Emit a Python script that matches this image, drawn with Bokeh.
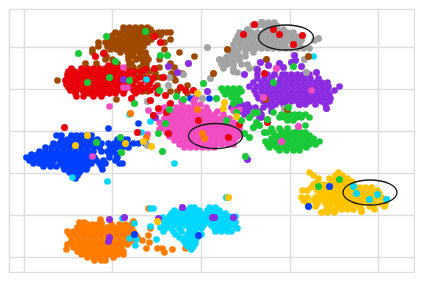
from bokeh.plotting import figure
from bokeh.models import Range1d, FixedTicker
from bokeh.embed import file_html
from bokeh.resources import INLINE

# Values (unlabelled axes, arbitrary units). Each cluster: y -> list of x.
x_ticks = [15, 103, 191.5, 281, 369]
y_ticks = [15, 57, 99, 141, 183, 225]

colors = dict(blue="#023eff", orange="#ff7c00", green="#1ac938", red="#e8000b", purple="#8b2be2",
              brown="#9f4800", pink="#f14cc1", grey="#a3a3a3", yellow="#ffc400", cyan="#00d7ff")

grey = {250: [253, 259, 265], 247: [243, 249, 255, 261, 267], 243: [238, 256, 262, 268, 274],
        240: [230, 236, 242, 248, 254, 260, 266, 272, 278, 284],
        236: [228, 234, 240, 246, 252, 258, 264, 270, 276, 282, 288],
        232: [226, 232, 238, 244, 250, 256, 262, 268, 274, 280, 286, 292, 305],
        228: [224, 230, 236, 242, 248, 254, 260, 266, 272, 276, 284, 290],
        224: [224, 230, 236, 240, 246, 252, 258, 264, 270, 276, 282, 288, 294, 300],
        220: [222, 228, 236, 244], 216: [218, 224, 230, 236], 212: [212, 218, 224, 230],
        208: [212, 218, 224, 232, 238], 204: [214, 224, 240, 246], 200: [228]}
purple = {198: [248, 258, 273, 276, 282, 288, 294, 300],
          194: [248, 255, 262, 271, 277, 283, 289, 295, 301, 309],
          190: [244, 252, 258, 264, 270, 276, 282, 288, 294, 300, 306, 312, 318],
          186: [240, 247, 253, 259, 265, 271, 277, 283, 289, 295, 301, 307, 313, 319, 330],
          182: [245, 252, 258, 264, 270, 276, 282, 288, 294, 300, 306, 312, 318, 325],
          178: [247, 254, 260, 266, 272, 278, 284, 290, 296, 302, 308, 314, 320],
          174: [249, 255, 261, 267, 273, 279, 285, 291, 297, 303, 309, 315, 321],
          171: [254, 262, 270, 276, 282, 288, 294, 300, 306, 312, 320],
          168: [226, 232, 238, 258, 266, 274, 290, 296, 306, 316],
          165: [222, 228, 234, 240, 246, 254, 262], 161: [226, 232, 238, 246, 250, 262],
          158: [235, 243, 252], 155: [250, 252]}
green = {184: [212, 218, 224, 230], 181: [214, 220, 226, 232], 178: [216, 222, 228], 175: [222, 226],
         160: [264], 158: [272, 276, 280, 285, 290, 296], 155: [270, 275, 282, 287, 292, 300], 152: [278, 284],
         147: [296], 144: [262, 270, 278], 141: [272, 288], 140: [258, 264, 278, 284, 292, 296],
         137: [265, 270, 276, 282, 288, 294, 300], 134: [262, 268, 274, 280, 286, 292, 298, 304],
         131: [256, 262, 268, 274, 280, 286, 292, 298, 304, 310], 128: [258, 264, 270, 276, 282, 288, 294, 300, 306],
         125: [260, 267, 273, 279, 285, 291, 297], 122: [270, 277, 284, 290]}
brown = {245: [114, 120, 126, 132, 138], 243: [117, 123, 129, 135, 141],
         240: [106, 112, 119, 125, 131, 137, 143, 149, 153, 157, 161],
         237: [103, 110, 116, 122, 128, 134, 140, 146, 151],
         233: [100, 106, 112, 118, 124, 130, 136, 142, 161],
         230: [89, 96, 102, 108, 114, 120, 126, 132, 138, 155],
         226: [89, 98, 104, 110, 116, 122, 128, 134],
         223: [83, 101, 107, 113, 119, 125, 131, 155],
         220: [83, 95, 111, 118, 124, 130, 136, 170], 216: [97, 119, 124, 131, 137, 185],
         213: [96, 103, 119, 127, 133, 139, 150], 209: [76, 87, 104, 108, 120, 122, 134, 137, 161],
         205: [106, 118, 124, 131, 137, 150, 165], 201: [106, 112, 125, 130, 140],
         199: [113, 134, 146, 162, 173], 195: [108, 117, 129, 135, 146, 151, 164],
         192: [48, 166], 187: [96, 148, 178], 181: [129, 133, 138, 161, 168], 179: [79, 178], 173: [107]}
red = {207: [99, 104], 204: [62, 72, 78, 84, 90, 96, 102, 108, 112],
       201: [59, 65, 71, 77, 83, 89, 95, 101, 107, 113, 120, 125, 132],
       198: [58, 64, 70, 76, 82, 88, 94, 100, 106, 112, 118, 124],
       195: [58, 63, 69, 75, 81, 87, 93, 99, 105, 111, 117, 130, 138, 144],
       192: [56, 62, 68, 74, 80, 86, 92, 98, 104, 110, 116, 122, 126, 136, 142],
       188: [57, 63, 69, 75, 81, 87, 93, 99, 105, 111, 117, 123, 131, 140],
       185: [59, 65, 71, 77, 83, 89, 95, 101, 107, 113, 119, 128, 136, 146],
       182: [61, 67, 73, 79, 85, 91, 97, 103, 109, 115, 124, 132, 141],
       179: [66, 75, 82, 88, 94, 100, 106, 114, 126, 148], 176: [67, 74, 84, 92]}
blue = {137: [47, 52, 62, 67, 72, 77, 82], 133: [52, 58, 64, 70, 76, 82, 88, 108, 114, 118],
        129: [44, 50, 56, 62, 68, 74, 80, 86, 92, 99, 105, 110, 118, 124, 129, 136],
        125: [36, 42, 48, 54, 60, 66, 72, 78, 84, 90, 101, 107, 113, 119],
        121: [30, 36, 42, 48, 54, 60, 66, 72, 78, 84, 92, 98, 104],
        118: [22, 28, 34, 40, 46, 52, 58, 64, 70, 76, 82, 100, 107],
        115: [17, 23, 29, 35, 41, 47, 53, 59, 65, 71, 77, 85, 100, 108],
        112: [20, 26, 32, 38, 44, 50, 56, 62, 68, 74, 80, 87, 94, 106],
        109: [24, 30, 36, 42, 52, 58, 64, 70, 76, 82, 90, 96, 110, 113],
        106: [34, 41, 47, 54, 60, 66, 72, 78, 92], 103: [55, 62, 68, 73, 77, 93],
        100: [60, 66, 70], 97: [64, 68], 94: [66],
        144: [99], 149: [129], 157: [144], 174: [181, 200], 175: [186]}
pink = {174: [186], 171: [172, 184], 168: [160, 173, 185, 191],
        165: [155, 167, 173, 179, 185, 197], 161: [150, 157, 163, 169, 175, 181, 187, 193, 199, 208],
        158: [157, 163, 169, 175, 181, 187, 193, 199, 205, 214],
        154: [155, 161, 167, 173, 179, 185, 191, 197, 203, 209, 215, 220],
        150: [150, 158, 164, 170, 176, 182, 188, 194, 200, 206, 212, 218, 224],
        147: [152, 160, 166, 172, 178, 184, 190, 196, 202, 208, 214, 218, 224, 230],
        143: [150, 158, 164, 170, 176, 182, 188, 194, 200, 206, 212, 218, 224, 230],
        140: [157, 163, 169, 175, 181, 187, 193, 199, 205, 211, 217, 223, 229],
        136: [160, 166, 172, 178, 184, 190, 196, 202, 208, 214, 220, 222, 228],
        132: [165, 171, 177, 183, 189, 195, 201, 207, 213, 219, 225],
        128: [170, 176, 182, 188, 194, 200, 206, 212, 218, 224], 125: [175, 181, 187, 193, 199, 205],
        166: [100], 162: [139, 224], 144: [155], 138: [138, 232], 205: [114], 185: [114, 118],
        204: [267], 175: [254], 146: [289], 182: [302], 131: [272], 116: [83], 163: [230]}
orange = {53: [91], 50: [70, 75, 92], 48: [72, 78, 83, 88, 92, 102, 110, 116, 122],
          45: [68, 74, 80, 86, 92, 98, 104, 110, 116, 122],
          41: [58, 64, 70, 76, 82, 88, 94, 100, 106, 112, 118, 124],
          38: [60, 66, 72, 78, 84, 90, 96, 102, 108, 114, 120, 126],
          35: [62, 68, 74, 80, 86, 92, 98, 104, 110, 116, 122, 128],
          31: [62, 68, 74, 80, 86, 92, 98, 104, 110, 116, 122],
          28: [58, 64, 70, 76, 82, 88, 94, 100, 106, 112, 118],
          25: [64, 70, 76, 82, 88, 94, 100, 106, 112], 21: [68, 74, 80, 86, 92, 98, 104, 110, 114],
          18: [72, 78, 84, 90, 96, 102, 108, 114], 15: [78, 84, 90, 96, 104], 12: [85, 92, 96],
          23: [57, 163], 32: [133], 30: [140], 24: [137, 148, 153, 176], 20: [155], 37: [139],
          44: [141], 51: [124], 64: [139]}
cyan = {65: [181, 185, 200, 206], 62: [165, 172, 178, 184, 190, 198, 204, 210],
        59: [162, 168, 174, 180, 186, 192, 198, 204, 210, 216],
        56: [160, 166, 172, 178, 184, 190, 196, 202, 208, 214, 220, 226],
        53: [158, 164, 170, 176, 182, 188, 194, 200, 206, 212, 218, 224],
        50: [155, 161, 167, 173, 179, 185, 191, 197, 203, 209, 215, 221, 226],
        47: [158, 164, 170, 176, 182, 188, 194, 202, 208, 214, 220, 225],
        44: [156, 162, 170, 180, 186, 192, 205, 211, 217, 228],
        41: [154, 164, 172, 180, 186, 206, 212, 218, 222], 38: [166, 178, 184, 192],
        35: [170, 176, 182, 188], 32: [174, 180, 186], 29: [176, 182, 186], 26: [178, 184], 23: [182],
        64: [141, 144], 109: [165], 91: [98], 95: [63], 54: [113], 49: [125], 33: [127, 147], 27: [126],
        34: [120], 46: [141], 45: [151], 55: [153], 158: [120], 193: [137], 151: [141], 140: [132], 216: [304]}
yellow = {100: [300, 329], 97: [304, 326, 333], 94: [309, 320, 326, 332, 338], 91: [308, 324, 330, 336, 342],
          88: [304, 314, 320, 326, 332, 338, 344], 85: [302, 311, 317, 323, 329, 335, 341, 350, 356, 362],
          82: [293, 298, 308, 314, 320, 326, 332, 338, 344, 350, 356, 362, 368],
          79: [310, 316, 322, 328, 334, 340, 346, 352, 358, 364, 370],
          75: [292, 298, 306, 312, 318, 324, 330, 336, 342, 348, 354, 360, 366, 372],
          72: [294, 304, 310, 316, 322, 328, 334, 340, 346, 352, 358, 364, 376],
          69: [298, 308, 316, 322, 328, 334, 340, 346, 352, 358, 364, 370, 376],
          66: [306, 320, 328, 334, 340, 350, 360, 364, 375], 63: [317, 322, 326, 332, 338, 344, 352, 365],
          60: [312, 318, 325]}

# Larger stray points lying on top of other clusters: (x, y)
red_stray = [(145, 236), (151, 230), (86, 216), (94, 219), (145, 204), (136, 203), (154, 195), (171, 185),
             (156, 177), (122, 174), (141, 172), (161, 169), (149, 164), (157, 160), (144, 157), (184, 182),
             (176, 182), (189, 152), (159, 139), (128, 140), (55, 145), (245, 248), (234, 238), (264, 243),
             (270, 238), (293, 237), (284, 228), (255, 199), (258, 150), (230, 148), (219, 135)]
green_stray = [(97, 236), (136, 241), (69, 219), (106, 211), (78, 190), (100, 195), (120, 192), (125, 169),
               (151, 217), (158, 217), (167, 176), (150, 182), (194, 189), (174, 173), (111, 135), (112, 120),
               (153, 121), (87, 130), (236, 116), (156, 149), (149, 139), (160, 163), (207, 174), (224, 169),
               (230, 172), (227, 160), (217, 152), (235, 139), (244, 145), (247, 150), (255, 140), (264, 190),
               (284, 206), (245, 160), (248, 160), (279, 165), (330, 93), (309, 86), (232, 152), (240, 155),
               (240, 135), (250, 147), (258, 153)]
grey_stray = [(210, 213), (217, 215), (224, 201), (297, 200), (295, 213), (309, 234), (252, 250), (275, 164),
              (244, 159), (198, 225), (201, 194), (174, 198), (160, 195), (159, 187), (138, 171), (193, 174),
              (138, 127)]
brown_stray = [(218, 223), (299, 216), (257, 213), (204, 199), (256, 173), (278, 163)]
purple_stray = [(285, 217), (286, 212), (251, 210), (259, 207), (270, 209), (282, 210), (248, 203), (274, 205),
                (292, 206), (235, 198), (265, 198), (307, 200), (317, 164), (290, 168), (179, 209), (159, 206),
                (168, 200), (198, 181), (146, 155), (100, 53), (100, 35), (99, 31), (115, 55), (149, 54),
                (173, 65), (203, 55), (205, 55), (224, 55), (238, 113), (114, 193)]
orange_stray = [(188, 163), (193, 139), (195, 134), (121, 159), (137, 135)]
cyan_stray = [(344, 86), (347, 79), (360, 73), (368, 78), (377, 73), (217, 75)]
yellow_stray = [(352, 61), (219, 75), (66, 127), (148, 51), (116, 129), (134, 131), (142, 126), (78, 137),
                (188, 179), (215, 170), (214, 164), (227, 156)]
blue_stray = [(320, 86), (299, 66), (125, 38), (189, 37), (101, 125)]
pink_stray = [(267, 204), (254, 175), (289, 146), (272, 131)]

ellipse_x = [276.5, 206, 360.5]
ellipse_y = [235, 136.5, 80]
ellipse_w = [55, 54, 54]
ellipse_h = [25, 25, 25]

p = figure(width=415, height=273, output_backend="svg", toolbar_location=None,
           x_range=Range1d(0, 405), y_range=Range1d(0, 263),
           min_border_left=9, min_border_right=1, min_border_top=9, min_border_bottom=1,
           background_fill_color="white", border_fill_color="white")
p.xaxis.visible = False
p.yaxis.visible = False
p.xgrid.ticker = FixedTicker(ticks=x_ticks)
p.ygrid.ticker = FixedTicker(ticks=y_ticks)
for g in (p.xgrid, p.ygrid):
    g.grid_line_color = "#dedede"
    g.grid_line_width = 1.5
p.outline_line_color = "#dedede"
p.outline_line_width = 1.6


def draw(rows, name, size=6.6):
    xs, ys = [], []
    for y, row in rows.items():
        xs += row
        ys += [y] * len(row)
    p.scatter(xs, ys, size=size, marker="circle", fill_color=colors[name], line_color=None)


def draw_stray(points, name, size=7):
    p.scatter([a for a, _ in points], [b for _, b in points], size=size, marker="circle",
              fill_color=colors[name], line_color=None)


draw(grey, "grey")
draw(purple, "purple")
draw(green, "green")
draw(brown, "brown")
draw(red, "red")
draw(blue, "blue")
draw(pink, "pink")
draw(orange, "orange")
draw(cyan, "cyan")
draw(yellow, "yellow")
draw_stray(grey_stray, "grey")
draw_stray(brown_stray, "brown")
draw_stray(purple_stray, "purple")
draw_stray(red_stray, "red")
draw_stray(green_stray, "green")
draw_stray(orange_stray, "orange")
draw_stray(cyan_stray, "cyan")
draw_stray(yellow_stray, "yellow")
draw_stray(blue_stray, "blue")
draw_stray(pink_stray, "pink")
p.ellipse(ellipse_x, ellipse_y, width=ellipse_w, height=ellipse_h, fill_color=None,
          line_color="#1a1a1a", line_width=1.3)

open("out.html", "w").write(file_html(p, INLINE))
